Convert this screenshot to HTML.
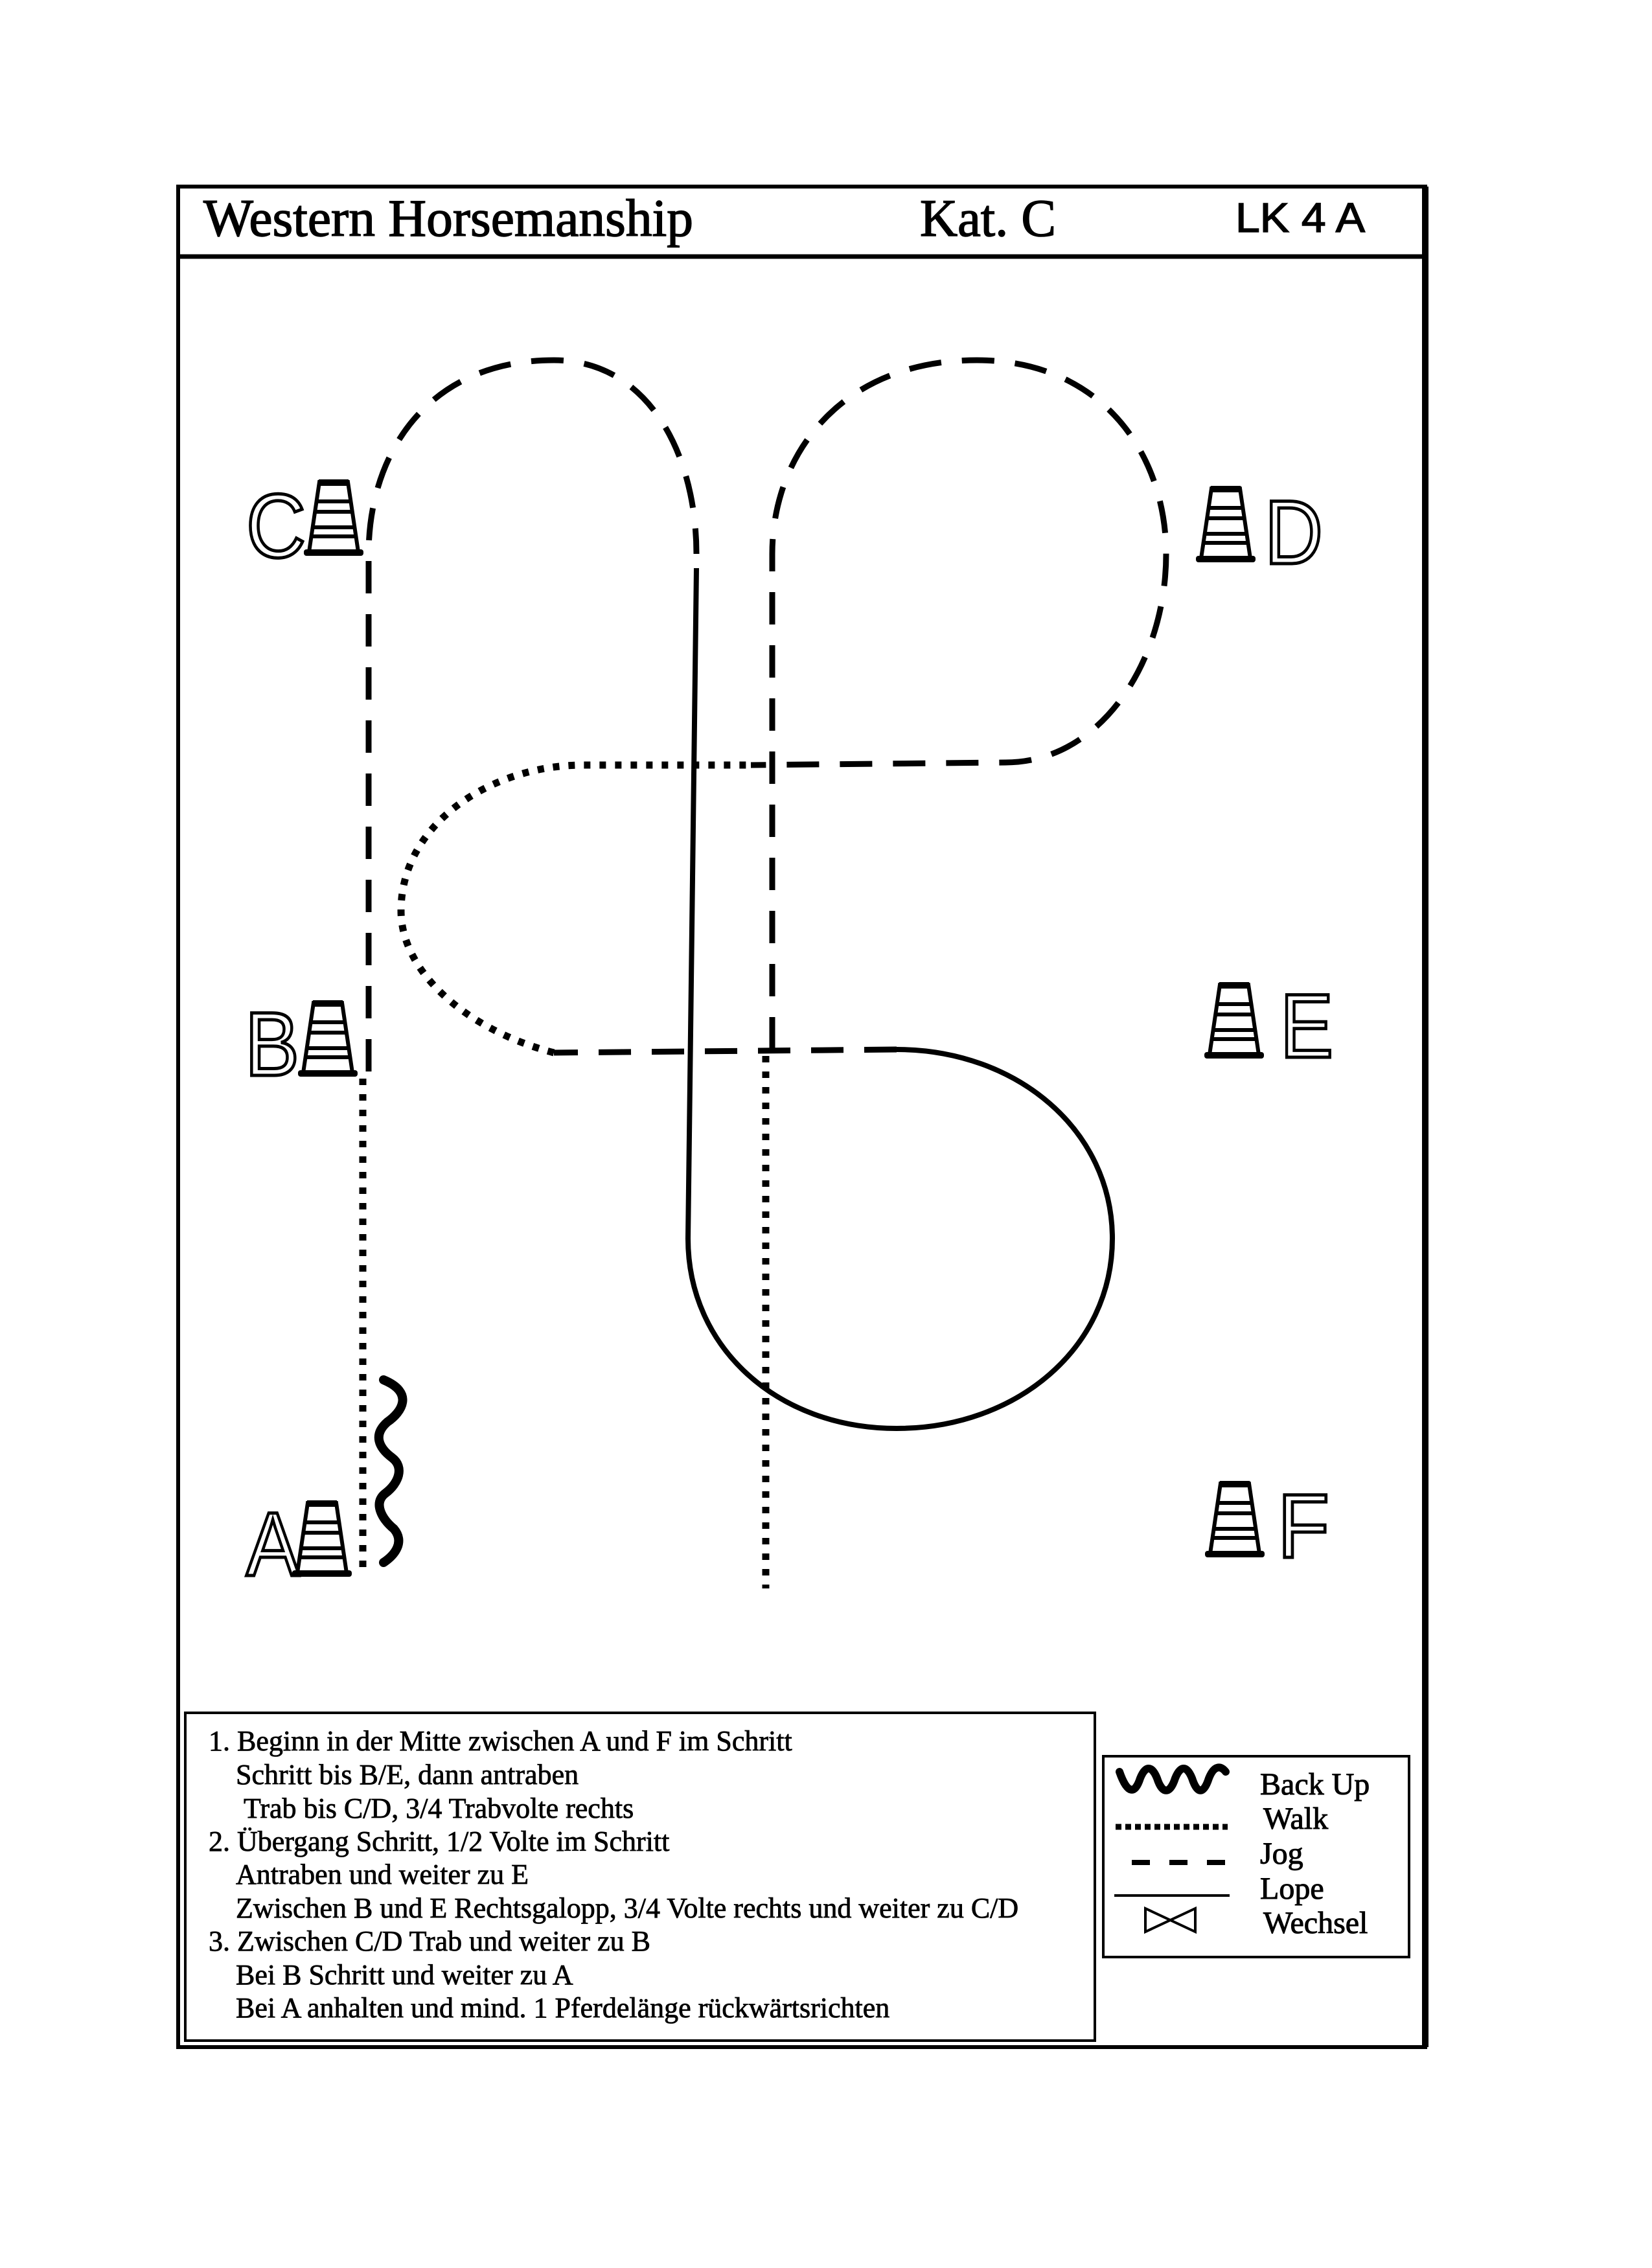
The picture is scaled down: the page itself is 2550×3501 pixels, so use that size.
<!DOCTYPE html>
<html><head><meta charset="utf-8"><style>
html,body{margin:0;padding:0;background:#fff}
svg{display:block}
</style></head><body>
<svg width="2550" height="3501" viewBox="0 0 2550 3501" xmlns="http://www.w3.org/2000/svg">
<defs>
<g id="cone">
<path d="M-22,-108 L22,-108 L38,0 L-38,0 Z" fill="#fff" stroke="#000" stroke-width="6"/>
<rect x="-23" y="-112" width="46" height="10" fill="#000"/>
<line x1="-27" y1="-78" x2="27" y2="-78" stroke="#000" stroke-width="6"/>
<line x1="-30" y1="-62" x2="30" y2="-62" stroke="#000" stroke-width="6"/>
<line x1="-32" y1="-38" x2="32" y2="-38" stroke="#000" stroke-width="6"/>
<line x1="-34" y1="-24" x2="34" y2="-24" stroke="#000" stroke-width="6"/>
<rect x="-46" y="-4" width="92" height="10" rx="4" fill="#000"/>
</g>
</defs>
<!-- frame -->
<rect x="275" y="288" width="1925" height="2872" fill="none" stroke="#000" stroke-width="6"/>
<line x1="275" y1="396" x2="2200" y2="396" stroke="#000" stroke-width="7"/>
<line x1="2200" y1="288" x2="2200" y2="3160" stroke="#000" stroke-width="10"/>
<g stroke="#000" stroke-width="1.5">
<text x="314" y="364" font-family="Liberation Serif,serif" font-size="82" textLength="756" lengthAdjust="spacingAndGlyphs">Western Horsemanship</text>
<text x="1420" y="364" font-family="Liberation Serif,serif" font-size="82" textLength="210" lengthAdjust="spacingAndGlyphs">Kat. C</text>
<text x="1907" y="358" font-family="Liberation Sans,sans-serif" font-size="64" textLength="200" lengthAdjust="spacingAndGlyphs">LK 4 A</text>
</g>

<!-- letters + cones -->
<g font-family="Liberation Sans,sans-serif" font-size="140" fill="#fff" stroke="#000" stroke-width="5">
<text x="380" y="860" textLength="92" lengthAdjust="spacingAndGlyphs">C</text>
<text x="1952" y="870" textLength="90" lengthAdjust="spacingAndGlyphs">D</text>
<text x="378" y="1660" textLength="84" lengthAdjust="spacingAndGlyphs">B</text>
<text x="1976" y="1632" textLength="82" lengthAdjust="spacingAndGlyphs">E</text>
<text x="380" y="2432" textLength="82" lengthAdjust="spacingAndGlyphs">A</text>
<text x="1972" y="2404" textLength="80" lengthAdjust="spacingAndGlyphs">F</text>
</g>
<use href="#cone" x="515" y="852"/>
<use href="#cone" x="1892" y="862"/>
<use href="#cone" x="506" y="1656"/>
<use href="#cone" x="1905" y="1628"/>
<use href="#cone" x="497" y="2428"/>
<use href="#cone" x="1906" y="2398"/>

<!-- jog paths -->
<g fill="none" stroke="#000" stroke-width="9" stroke-dasharray="50,32">
<path d="M569,1654 L569,855 C569,700 660,556 855,556 C1000,556 1075,700 1075,855"/>
<path d="M1192,1620 L1192,855 C1192,700 1300,556 1508,556 C1700,556 1800,700 1800,855 C1800,1020 1700,1177 1552,1177 L1159,1181"/>
<path d="M1384,1620 L855,1625"/>
</g>
<!-- walk paths -->
<g fill="none" stroke="#000" stroke-width="11" stroke-dasharray="10,14">
<path d="M560,1665 L560,2425"/>
<path d="M1182,1630 L1182,2452"/>
<path d="M855,1625 C720,1590 619,1500 619,1406 C619,1270 760,1181 900,1181 L1159,1181"/>
</g>
<!-- lope -->
<path d="M1075,877 L1062,1912 C1062,2080 1200,2205 1384,2205 C1570,2205 1717,2080 1717,1912 C1717,1745 1570,1620 1384,1620" fill="none" stroke="#000" stroke-width="8"/>
<!-- back up -->
<path d="M592,2130 C640,2150 620,2180 598,2195 C575,2215 585,2235 605,2250 C625,2265 615,2290 595,2305 C575,2320 590,2345 608,2360 C625,2380 610,2400 592,2412" fill="none" stroke="#000" stroke-width="14" stroke-linecap="round"/>

<!-- instruction box -->
<rect x="286" y="2644" width="1404" height="506" fill="none" stroke="#000" stroke-width="4"/>
<g font-family="Liberation Serif,serif" font-size="44" fill="#000" stroke="#000" stroke-width="0.8">
<text x="322" y="2702">1. Beginn in der Mitte zwischen A und F im Schritt</text>
<text x="364" y="2754">Schritt bis B/E, dann antraben</text>
<text x="376" y="2806">Trab bis C/D, 3/4 Trabvolte rechts</text>
<text x="322" y="2857">2. Übergang Schritt, 1/2 Volte im Schritt</text>
<text x="364" y="2908">Antraben und weiter zu E</text>
<text x="364" y="2960">Zwischen B und E Rechtsgalopp, 3/4 Volte rechts und weiter zu C/D</text>
<text x="322" y="3011">3. Zwischen C/D Trab und weiter zu B</text>
<text x="364" y="3063">Bei B Schritt und weiter zu A</text>
<text x="364" y="3114">Bei A anhalten und mind. 1 Pferdelänge rückwärtsrichten</text>
</g>

<!-- legend -->
<rect x="1703" y="2711" width="472" height="310" fill="none" stroke="#000" stroke-width="4"/>
<path d="M1728,2735 C1740,2770 1752,2770 1760,2745 C1768,2725 1778,2725 1786,2745 C1794,2770 1806,2770 1814,2745 C1822,2725 1832,2725 1840,2745 C1848,2770 1858,2770 1866,2745 C1874,2725 1884,2725 1892,2735" fill="none" stroke="#000" stroke-width="12" stroke-linecap="round"/>
<line x1="1722" y1="2820" x2="1895" y2="2820" stroke="#000" stroke-width="9" stroke-dasharray="9,6"/>
<line x1="1747" y1="2875" x2="1895" y2="2875" stroke="#000" stroke-width="8" stroke-dasharray="28,30"/>
<line x1="1720" y1="2926" x2="1898" y2="2926" stroke="#000" stroke-width="4"/>
<path d="M1768,2946 L1768,2982 L1845,2946 L1845,2982 Z" fill="none" stroke="#000" stroke-width="4"/>
<g font-family="Liberation Serif,serif" font-size="48" fill="#000" stroke="#000" stroke-width="1">
<text x="1945" y="2770">Back Up</text>
<text x="1950" y="2823">Walk</text>
<text x="1945" y="2877">Jog</text>
<text x="1945" y="2931">Lope</text>
<text x="1950" y="2984">Wechsel</text>
</g>
</svg>
</body></html>
